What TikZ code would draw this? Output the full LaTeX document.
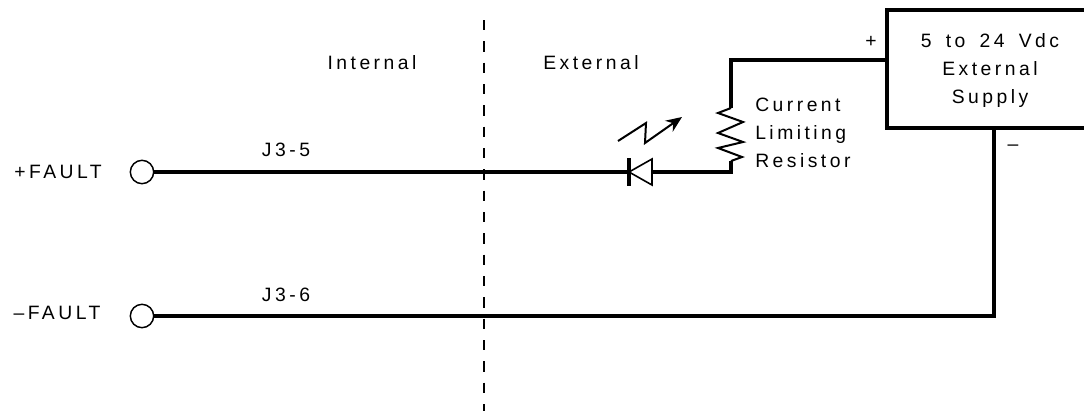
\documentclass[tikz,border=0pt]{standalone}
\usepackage{fontspec}
\setmainfont[WordSpace=1.6]{Liberation Sans}
\usetikzlibrary{arrows.meta}

\begin{document}
\begin{tikzpicture}[x=0.75pt,y=-0.75pt,
		wire/.style={line width=3pt},
		thinwire/.style={line width=1.5pt},
		terminal/.style={circle,draw,line width=1.1pt,inner sep=0pt,minimum size=17.5pt},
		spaced/.style={font=\fontsize{14.5}{21}\selectfont\addfontfeatures{LetterSpace=18},inner sep=0pt,align=center}
		]
		\useasboundingbox (0,0) rectangle (1084,411);

		\node[terminal](T1) at (142,172){};
		\node[terminal](T2) at (142,316){};
		\node[spaced](L1) at (58,172){+FAULT};
		\node[spaced](L2) at (57,313){--FAULT};
		\node[spaced](J5) at (286,150){J3-5};
		\node[spaced](J6) at (286,295){J3-6};
		\node[spaced](INT) at (372,63){Internal};
		\node[spaced](EXT) at (591,63){External};
		\node[spaced,align=left,anchor=west](RES) at (755,133){Current\\Limiting\\Resistor};
		\node[spaced](PLUS) at (871,42){+};
		\node[spaced](MINUS) at (1013,148){--};

		\node[draw,line width=3pt,outer sep=0pt,minimum width=154.5pt,minimum height=88.5pt](SUP) at (990,69){};
		\node[spaced](SUPTXT) at (990,70){5 to 24 Vdc\\External\\Supply};

		\coordinate (DA) at (652,172);
		\coordinate (DK) at (629,172);
		\coordinate (RT) at (731,108);
		\coordinate (RB) at (731,161);
		\coordinate (TOP) at (731,60);
		\coordinate (BEND) at (731,172);
		\coordinate (CORNER) at (994,316);

		% wires
		\draw[wire] (T1) -- (DK);
		\draw[wire] (DA) -- (BEND) -- (RB);
		\draw[wire] (RT) -- (TOP) -- (TOP -| SUP.west);
		\draw[wire] (T2) -- (CORNER) -- (CORNER |- SUP.south);

		% diode
		\draw[line width=1.2pt] (DK) -- (652,159) -- (652,185) -- cycle;
		\draw[line width=3.2pt] (629,158) -- (629,186);

		% resistor
		\draw[thinwire] (RT) -- (718,113) -- (743,122) -- (718,133) -- (743,142) -- (718,148) -- (742,157) -- (RB);

		% light
		\draw[thinwire,-{Stealth[length=12pt,width=10pt]}] (618,141) -- (646,123) -- (645,143) -- (682,117);

		% boundary
		\draw[line width=1.5pt,dash pattern=on 7.8pt off 8.2pt] (484,20) -- (484,411);

	\end{tikzpicture}
\end{document}
